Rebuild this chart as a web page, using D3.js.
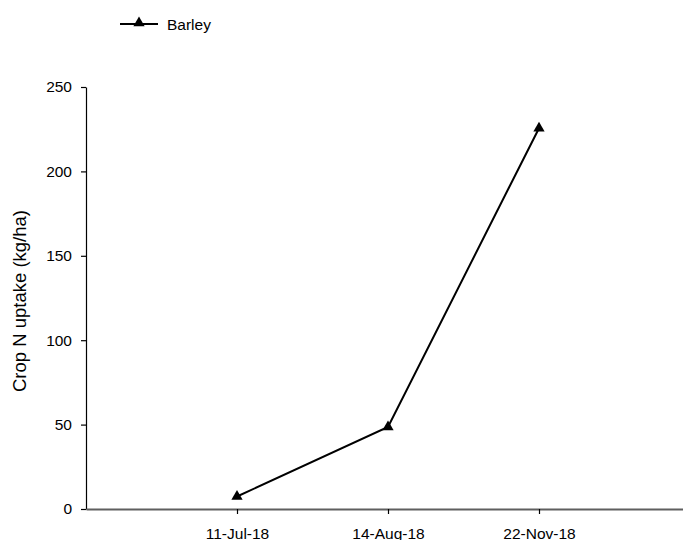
<!DOCTYPE html>
<html>
<head>
<meta charset="utf-8">
<script src="https://cdn.jsdelivr.net/npm/d3@7"></script>
<style>
  html, body { margin: 0; padding: 0; background: #fff; }
  svg { display: block; }
  text { font-family: "Liberation Sans", Arial, sans-serif; fill: #000; }
</style>
</head>
<body>
<svg id="chart" width="683" height="540"></svg>
<script>
const categories = ["11-Jul-18", "14-Aug-18", "22-Nov-18"];
const barley = [7.4, 48.6, 225.6];
const yTicks = [0, 50, 100, 150, 200, 250];
const seriesName = "Barley";
const yLabel = "Crop N uptake (kg/ha)";

const svg = d3.select("#chart");
const x = d3.scaleLinear().domain([0, categories.length + 1]).range([86, 690]);
const y = d3.scaleLinear().domain([0, 250]).range([509, 87]);

// Y axis
const yAxis = svg.append("g").attr("transform", "translate(86,0)")
  .call(d3.axisLeft(y).tickValues(yTicks).tickSize(5).tickPadding(9).tickSizeOuter(0));
yAxis.select(".domain").attr("stroke", "#000").attr("stroke-width", 1.2);
yAxis.selectAll(".tick line").attr("stroke", "#000").attr("stroke-width", 1.2);
yAxis.selectAll(".tick text").style("font-size", "15.5px").attr("font-family", null);

// X axis
const xAxis = svg.append("g").attr("transform", "translate(0,509)")
  .call(d3.axisBottom(x).tickValues(categories.map((d, i) => i + 1))
    .tickFormat((d) => categories[d - 1]).tickSize(5).tickPadding(14).tickSizeOuter(0));
xAxis.select(".domain").attr("stroke", "#5f5f5f").attr("stroke-width", 1.8);
xAxis.selectAll(".tick line").attr("stroke", "#000").attr("stroke-width", 1.2);
xAxis.selectAll(".tick text").style("font-size", "15.5px").attr("font-family", null);

// Y label
svg.append("text")
  .attr("transform", `translate(26,${(y(0) + y(250)) / 2 + 3}) rotate(-90)`)
  .attr("text-anchor", "middle")
  .style("font-size", "18.5px")
  .text(yLabel);

// Line
const line = d3.line().x((d, i) => x(i + 1)).y((d) => y(d));
svg.append("path").datum(barley)
  .attr("d", line).attr("fill", "none").attr("stroke", "#000").attr("stroke-width", 2);

const tri = d3.symbol().type(d3.symbolTriangle).size(55);
svg.selectAll(".pt").data(barley).enter().append("path")
  .attr("class", "pt")
  .attr("d", tri)
  .attr("transform", (d, i) => `translate(${x(i + 1)},${y(d)})`)
  .attr("fill", "#000");

// Legend
const lg = svg.append("g");
lg.append("line").attr("x1", 120).attr("x2", 158).attr("y1", 24).attr("y2", 24)
  .attr("stroke", "#000").attr("stroke-width", 2);
lg.append("path").attr("d", tri).attr("transform", "translate(139,23)").attr("fill", "#000");
lg.append("text").attr("x", 167).attr("y", 29.5).style("font-size", "15.5px").text(seriesName);
</script>
</body>
</html>
